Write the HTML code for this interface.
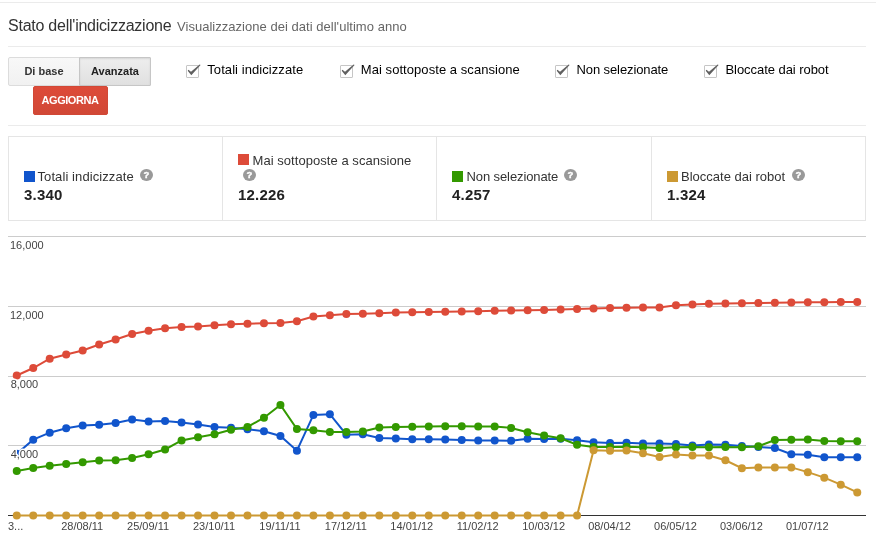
<!DOCTYPE html>
<html lang="it"><head><meta charset="utf-8"><title>Stato dell'indicizzazione</title>
<style>
html,body{margin:0;padding:0;background:#fff;}
body{width:876px;height:541px;position:relative;overflow:hidden;font-family:"Liberation Sans",Arial,sans-serif;font-size:13px;color:#222;}
.abs{position:absolute;}
.hr{position:absolute;height:1px;background:#ebebeb;}
h1{position:absolute;left:8px;top:16px;margin:0;font-size:16px;font-weight:normal;color:#333;line-height:20px;white-space:nowrap;letter-spacing:-0.24px;}
h1 span{position:absolute;left:169px;top:1px;font-size:13px;color:#666;letter-spacing:0.03px;}
.btn{position:absolute;box-sizing:border-box;height:29px;line-height:27px;text-align:center;font-size:11px;font-weight:bold;color:#333;border:1px solid #dcdcdc;background:#f5f5f5;background-image:linear-gradient(#f8f8f8,#f1f1f1);border-radius:2px;}
.btn.l{left:8px;top:57px;width:72px;border-radius:2px 0 0 2px;}
.btn.r{left:79px;top:57px;width:72px;border-radius:0 1px 1px 0;border-color:#c6c6c6;color:#222;background:#e8e8e8;background-image:linear-gradient(#eeeeee,#e0e0e0);box-shadow:inset 0 1px 2px rgba(0,0,0,.1);}
.btn.red{left:33px;top:86px;width:75px;color:#fff;border:1px solid #d14836;background:#d14836;background-image:linear-gradient(#dd4b39,#d14836);text-transform:uppercase;border-radius:2px;letter-spacing:-0.45px;text-indent:-1px;}
.cb{position:absolute;top:65px;width:11px;height:11px;border:1px solid #c6c6c6;background:#fff;border-radius:1px;}
.ck{position:absolute;overflow:visible;}
.cl{position:absolute;letter-spacing:0.07px;top:62px;line-height:16px;font-size:13px;color:#000;white-space:nowrap;}
.cards{position:absolute;left:8px;top:136px;width:856px;height:83px;border:1px solid #e5e5e5;}
.div{position:absolute;top:136px;width:1px;height:85px;background:#e5e5e5;}
.sq{position:absolute;width:11px;height:11px;}
.lab{position:absolute;letter-spacing:0.1px;font-size:13px;line-height:16px;color:#333;white-space:nowrap;}
.val{position:absolute;letter-spacing:0.2px;font-size:15px;line-height:18px;font-weight:bold;color:#222;white-space:nowrap;}
.help{position:absolute;width:13px;height:12.4px;border-radius:50%;background:#999;color:#fff;font-size:9.5px;font-weight:bold;line-height:12px;text-align:center;-webkit-text-stroke:0.4px #fff;}
.chart{position:absolute;left:0;top:0;}
</style></head><body>
<div class="hr" style="left:0;top:2px;width:876px"></div>
<h1>Stato dell'indicizzazione <span>Visualizzazione dei dati dell'ultimo anno</span></h1>
<div class="hr" style="left:8px;top:46px;width:858px"></div>
<div class="btn l">Di base</div><div class="btn r">Avanzata</div>
<div class="btn red">Aggiorna</div>
<div class="cb" style="left:186px"></div><svg class="ck" style="left:186px;top:60px" width="18" height="20" viewBox="0 0 18 20"><path d="M1.9 10.2 L2.4 9.8 L5 11.8 L13.6 4.4 L14.6 5.1 L5.3 15.2 L1.9 10.9 Z" fill="#606060"/></svg><div class="cl" style="left:207.3px;letter-spacing:0.07px">Totali indicizzate</div>
<div class="cb" style="left:339.5px"></div><svg class="ck" style="left:339.5px;top:60px" width="18" height="20" viewBox="0 0 18 20"><path d="M1.9 10.2 L2.4 9.8 L5 11.8 L13.6 4.4 L14.6 5.1 L5.3 15.2 L1.9 10.9 Z" fill="#606060"/></svg><div class="cl" style="left:360.8px;letter-spacing:0.06px">Mai sottoposte a scansione</div>
<div class="cb" style="left:555.3px"></div><svg class="ck" style="left:555.3px;top:60px" width="18" height="20" viewBox="0 0 18 20"><path d="M1.9 10.2 L2.4 9.8 L5 11.8 L13.6 4.4 L14.6 5.1 L5.3 15.2 L1.9 10.9 Z" fill="#606060"/></svg><div class="cl" style="left:576.5999999999999px;letter-spacing:-0.11px">Non selezionate</div>
<div class="cb" style="left:704.2px"></div><svg class="ck" style="left:704.2px;top:60px" width="18" height="20" viewBox="0 0 18 20"><path d="M1.9 10.2 L2.4 9.8 L5 11.8 L13.6 4.4 L14.6 5.1 L5.3 15.2 L1.9 10.9 Z" fill="#606060"/></svg><div class="cl" style="left:725.5px;letter-spacing:-0.055px">Bloccate dai robot</div>

<div class="hr" style="left:8px;top:125px;width:858px"></div>
<div class="cards"></div>
<div class="div" style="left:222px"></div><div class="div" style="left:436px"></div><div class="div" style="left:651px"></div>
<div class="sq" style="left:24px;top:171px;background:#1155cc"></div><div class="lab" style="left:37.5px;top:169px;letter-spacing:0.09px">Totali indicizzate</div><div class="help" style="left:140px;top:169px">?</div><div class="val" style="left:24px;top:186px">3.340</div>
<div class="sq" style="left:238px;top:154px;background:#dd4b39"></div><div class="lab" style="left:252.5px;top:153px;letter-spacing:0.05px">Mai sottoposte a scansione</div><div class="help" style="left:243px;top:169px">?</div><div class="val" style="left:238px;top:186px">12.226</div>
<div class="sq" style="left:452px;top:171px;background:#339900"></div><div class="lab" style="left:466.5px;top:169px;letter-spacing:-0.1px">Non selezionate</div><div class="help" style="left:564px;top:169px">?</div><div class="val" style="left:452px;top:186px">4.257</div>
<div class="sq" style="left:667px;top:171px;background:#cc9933"></div><div class="lab" style="left:681px;top:169px;letter-spacing:0">Bloccate dai robot</div><div class="help" style="left:792px;top:169px">?</div><div class="val" style="left:667px;top:186px">1.324</div>

<svg class="chart" width="876" height="541" viewBox="0 0 876 541">
<rect x="8" y="236" width="858" height="1" fill="#cccccc"/>
<rect x="8" y="306" width="858" height="1" fill="#cccccc"/>
<rect x="8" y="376" width="858" height="1" fill="#cccccc"/>
<rect x="8" y="445" width="858" height="1" fill="#cccccc"/>
<rect x="8" y="515" width="858" height="1" fill="#333333"/>
<polyline points="16.75,453.70 33.23,439.70 49.71,432.70 66.19,428.20 82.67,425.45 99.15,424.70 115.63,422.95 132.11,419.45 148.59,421.45 165.07,420.95 181.55,422.45 198.03,424.45 214.51,426.95 231.00,427.70 247.48,429.20 263.96,431.20 280.44,435.95 296.92,450.70 313.40,414.95 329.88,414.20 346.36,434.70 362.84,434.20 379.32,437.95 395.80,438.45 412.28,439.20 428.76,439.20 445.24,439.45 461.72,439.95 478.20,440.45 494.68,440.45 511.16,440.70 527.64,438.70 544.12,438.95 560.60,438.70 577.08,440.20 593.56,442.25 610.04,443.00 626.52,442.80 643.00,443.60 659.49,443.60 675.97,444.00 692.45,445.60 708.93,444.45 725.41,444.70 741.89,445.95 758.37,446.95 774.85,447.95 791.33,454.20 807.81,454.70 824.29,457.20 840.77,457.20 857.25,457.20" fill="none" stroke="#1155cc" stroke-width="2"/><g fill="#1155cc"><circle cx="16.75" cy="453.70" r="4"/><circle cx="33.23" cy="439.70" r="4"/><circle cx="49.71" cy="432.70" r="4"/><circle cx="66.19" cy="428.20" r="4"/><circle cx="82.67" cy="425.45" r="4"/><circle cx="99.15" cy="424.70" r="4"/><circle cx="115.63" cy="422.95" r="4"/><circle cx="132.11" cy="419.45" r="4"/><circle cx="148.59" cy="421.45" r="4"/><circle cx="165.07" cy="420.95" r="4"/><circle cx="181.55" cy="422.45" r="4"/><circle cx="198.03" cy="424.45" r="4"/><circle cx="214.51" cy="426.95" r="4"/><circle cx="231.00" cy="427.70" r="4"/><circle cx="247.48" cy="429.20" r="4"/><circle cx="263.96" cy="431.20" r="4"/><circle cx="280.44" cy="435.95" r="4"/><circle cx="296.92" cy="450.70" r="4"/><circle cx="313.40" cy="414.95" r="4"/><circle cx="329.88" cy="414.20" r="4"/><circle cx="346.36" cy="434.70" r="4"/><circle cx="362.84" cy="434.20" r="4"/><circle cx="379.32" cy="437.95" r="4"/><circle cx="395.80" cy="438.45" r="4"/><circle cx="412.28" cy="439.20" r="4"/><circle cx="428.76" cy="439.20" r="4"/><circle cx="445.24" cy="439.45" r="4"/><circle cx="461.72" cy="439.95" r="4"/><circle cx="478.20" cy="440.45" r="4"/><circle cx="494.68" cy="440.45" r="4"/><circle cx="511.16" cy="440.70" r="4"/><circle cx="527.64" cy="438.70" r="4"/><circle cx="544.12" cy="438.95" r="4"/><circle cx="560.60" cy="438.70" r="4"/><circle cx="577.08" cy="440.20" r="4"/><circle cx="593.56" cy="442.25" r="4"/><circle cx="610.04" cy="443.00" r="4"/><circle cx="626.52" cy="442.80" r="4"/><circle cx="643.00" cy="443.60" r="4"/><circle cx="659.49" cy="443.60" r="4"/><circle cx="675.97" cy="444.00" r="4"/><circle cx="692.45" cy="445.60" r="4"/><circle cx="708.93" cy="444.45" r="4"/><circle cx="725.41" cy="444.70" r="4"/><circle cx="741.89" cy="445.95" r="4"/><circle cx="758.37" cy="446.95" r="4"/><circle cx="774.85" cy="447.95" r="4"/><circle cx="791.33" cy="454.20" r="4"/><circle cx="807.81" cy="454.70" r="4"/><circle cx="824.29" cy="457.20" r="4"/><circle cx="840.77" cy="457.20" r="4"/><circle cx="857.25" cy="457.20" r="4"/></g>
<polyline points="16.75,375.50 33.23,368.00 49.71,358.75 66.19,354.50 82.67,350.50 99.15,344.50 115.63,339.50 132.11,334.00 148.59,330.75 165.07,328.25 181.55,327.00 198.03,326.50 214.51,325.25 231.00,324.25 247.48,323.75 263.96,323.25 280.44,323.00 296.92,321.25 313.40,316.50 329.88,315.25 346.36,314.00 362.84,313.75 379.32,313.25 395.80,312.50 412.28,312.25 428.76,312.00 445.24,311.75 461.72,311.50 478.20,311.25 494.68,310.75 511.16,310.50 527.64,310.25 544.12,310.00 560.60,309.50 577.08,309.00 593.56,308.50 610.04,308.00 626.52,307.75 643.00,307.60 659.49,307.50 675.97,305.25 692.45,304.50 708.93,303.75 725.41,303.50 741.89,303.25 758.37,303.00 774.85,302.75 791.33,302.50 807.81,302.25 824.29,302.25 840.77,302.00 857.25,302.00" fill="none" stroke="#dd4b39" stroke-width="2"/><g fill="#dd4b39"><circle cx="16.75" cy="375.50" r="4"/><circle cx="33.23" cy="368.00" r="4"/><circle cx="49.71" cy="358.75" r="4"/><circle cx="66.19" cy="354.50" r="4"/><circle cx="82.67" cy="350.50" r="4"/><circle cx="99.15" cy="344.50" r="4"/><circle cx="115.63" cy="339.50" r="4"/><circle cx="132.11" cy="334.00" r="4"/><circle cx="148.59" cy="330.75" r="4"/><circle cx="165.07" cy="328.25" r="4"/><circle cx="181.55" cy="327.00" r="4"/><circle cx="198.03" cy="326.50" r="4"/><circle cx="214.51" cy="325.25" r="4"/><circle cx="231.00" cy="324.25" r="4"/><circle cx="247.48" cy="323.75" r="4"/><circle cx="263.96" cy="323.25" r="4"/><circle cx="280.44" cy="323.00" r="4"/><circle cx="296.92" cy="321.25" r="4"/><circle cx="313.40" cy="316.50" r="4"/><circle cx="329.88" cy="315.25" r="4"/><circle cx="346.36" cy="314.00" r="4"/><circle cx="362.84" cy="313.75" r="4"/><circle cx="379.32" cy="313.25" r="4"/><circle cx="395.80" cy="312.50" r="4"/><circle cx="412.28" cy="312.25" r="4"/><circle cx="428.76" cy="312.00" r="4"/><circle cx="445.24" cy="311.75" r="4"/><circle cx="461.72" cy="311.50" r="4"/><circle cx="478.20" cy="311.25" r="4"/><circle cx="494.68" cy="310.75" r="4"/><circle cx="511.16" cy="310.50" r="4"/><circle cx="527.64" cy="310.25" r="4"/><circle cx="544.12" cy="310.00" r="4"/><circle cx="560.60" cy="309.50" r="4"/><circle cx="577.08" cy="309.00" r="4"/><circle cx="593.56" cy="308.50" r="4"/><circle cx="610.04" cy="308.00" r="4"/><circle cx="626.52" cy="307.75" r="4"/><circle cx="643.00" cy="307.60" r="4"/><circle cx="659.49" cy="307.50" r="4"/><circle cx="675.97" cy="305.25" r="4"/><circle cx="692.45" cy="304.50" r="4"/><circle cx="708.93" cy="303.75" r="4"/><circle cx="725.41" cy="303.50" r="4"/><circle cx="741.89" cy="303.25" r="4"/><circle cx="758.37" cy="303.00" r="4"/><circle cx="774.85" cy="302.75" r="4"/><circle cx="791.33" cy="302.50" r="4"/><circle cx="807.81" cy="302.25" r="4"/><circle cx="824.29" cy="302.25" r="4"/><circle cx="840.77" cy="302.00" r="4"/><circle cx="857.25" cy="302.00" r="4"/></g>
<polyline points="16.75,470.95 33.23,467.95 49.71,465.70 66.19,463.95 82.67,462.20 99.15,460.45 115.63,460.20 132.11,457.95 148.59,454.20 165.07,449.45 181.55,440.45 198.03,437.20 214.51,434.20 231.00,429.70 247.48,426.95 263.96,417.70 280.44,404.95 296.92,428.95 313.40,430.20 329.88,431.95 346.36,431.95 362.84,431.45 379.32,427.45 395.80,426.95 412.28,426.70 428.76,426.45 445.24,426.20 461.72,426.20 478.20,426.45 494.68,426.45 511.16,427.95 527.64,432.20 544.12,435.45 560.60,438.20 577.08,444.70 593.56,446.90 610.04,446.90 626.52,446.80 643.00,447.30 659.49,447.90 675.97,447.15 692.45,446.95 708.93,447.20 725.41,446.95 741.89,447.20 758.37,446.20 774.85,439.95 791.33,439.70 807.81,439.45 824.29,440.95 840.77,441.20 857.25,441.20" fill="none" stroke="#339900" stroke-width="2"/><g fill="#339900"><circle cx="16.75" cy="470.95" r="4"/><circle cx="33.23" cy="467.95" r="4"/><circle cx="49.71" cy="465.70" r="4"/><circle cx="66.19" cy="463.95" r="4"/><circle cx="82.67" cy="462.20" r="4"/><circle cx="99.15" cy="460.45" r="4"/><circle cx="115.63" cy="460.20" r="4"/><circle cx="132.11" cy="457.95" r="4"/><circle cx="148.59" cy="454.20" r="4"/><circle cx="165.07" cy="449.45" r="4"/><circle cx="181.55" cy="440.45" r="4"/><circle cx="198.03" cy="437.20" r="4"/><circle cx="214.51" cy="434.20" r="4"/><circle cx="231.00" cy="429.70" r="4"/><circle cx="247.48" cy="426.95" r="4"/><circle cx="263.96" cy="417.70" r="4"/><circle cx="280.44" cy="404.95" r="4"/><circle cx="296.92" cy="428.95" r="4"/><circle cx="313.40" cy="430.20" r="4"/><circle cx="329.88" cy="431.95" r="4"/><circle cx="346.36" cy="431.95" r="4"/><circle cx="362.84" cy="431.45" r="4"/><circle cx="379.32" cy="427.45" r="4"/><circle cx="395.80" cy="426.95" r="4"/><circle cx="412.28" cy="426.70" r="4"/><circle cx="428.76" cy="426.45" r="4"/><circle cx="445.24" cy="426.20" r="4"/><circle cx="461.72" cy="426.20" r="4"/><circle cx="478.20" cy="426.45" r="4"/><circle cx="494.68" cy="426.45" r="4"/><circle cx="511.16" cy="427.95" r="4"/><circle cx="527.64" cy="432.20" r="4"/><circle cx="544.12" cy="435.45" r="4"/><circle cx="560.60" cy="438.20" r="4"/><circle cx="577.08" cy="444.70" r="4"/><circle cx="593.56" cy="446.90" r="4"/><circle cx="610.04" cy="446.90" r="4"/><circle cx="626.52" cy="446.80" r="4"/><circle cx="643.00" cy="447.30" r="4"/><circle cx="659.49" cy="447.90" r="4"/><circle cx="675.97" cy="447.15" r="4"/><circle cx="692.45" cy="446.95" r="4"/><circle cx="708.93" cy="447.20" r="4"/><circle cx="725.41" cy="446.95" r="4"/><circle cx="741.89" cy="447.20" r="4"/><circle cx="758.37" cy="446.20" r="4"/><circle cx="774.85" cy="439.95" r="4"/><circle cx="791.33" cy="439.70" r="4"/><circle cx="807.81" cy="439.45" r="4"/><circle cx="824.29" cy="440.95" r="4"/><circle cx="840.77" cy="441.20" r="4"/><circle cx="857.25" cy="441.20" r="4"/></g>
<polyline points="16.75,515.50 33.23,515.50 49.71,515.50 66.19,515.50 82.67,515.50 99.15,515.50 115.63,515.50 132.11,515.50 148.59,515.50 165.07,515.50 181.55,515.50 198.03,515.50 214.51,515.50 231.00,515.50 247.48,515.50 263.96,515.50 280.44,515.50 296.92,515.50 313.40,515.50 329.88,515.50 346.36,515.50 362.84,515.50 379.32,515.50 395.80,515.50 412.28,515.50 428.76,515.50 445.24,515.50 461.72,515.50 478.20,515.50 494.68,515.50 511.16,515.50 527.64,515.50 544.12,515.50 560.60,515.50 577.08,515.50 593.56,450.15 610.04,450.65 626.52,450.40 643.00,453.30 659.49,456.90 675.97,454.40 692.45,455.50 708.93,455.50 725.41,460.25 741.89,468.25 758.37,467.50 774.85,467.50 791.33,467.40 807.81,472.15 824.29,477.65 840.77,484.65 857.25,492.40" fill="none" stroke="#cc9933" stroke-width="2"/><g fill="#cc9933"><circle cx="16.75" cy="515.50" r="4"/><circle cx="33.23" cy="515.50" r="4"/><circle cx="49.71" cy="515.50" r="4"/><circle cx="66.19" cy="515.50" r="4"/><circle cx="82.67" cy="515.50" r="4"/><circle cx="99.15" cy="515.50" r="4"/><circle cx="115.63" cy="515.50" r="4"/><circle cx="132.11" cy="515.50" r="4"/><circle cx="148.59" cy="515.50" r="4"/><circle cx="165.07" cy="515.50" r="4"/><circle cx="181.55" cy="515.50" r="4"/><circle cx="198.03" cy="515.50" r="4"/><circle cx="214.51" cy="515.50" r="4"/><circle cx="231.00" cy="515.50" r="4"/><circle cx="247.48" cy="515.50" r="4"/><circle cx="263.96" cy="515.50" r="4"/><circle cx="280.44" cy="515.50" r="4"/><circle cx="296.92" cy="515.50" r="4"/><circle cx="313.40" cy="515.50" r="4"/><circle cx="329.88" cy="515.50" r="4"/><circle cx="346.36" cy="515.50" r="4"/><circle cx="362.84" cy="515.50" r="4"/><circle cx="379.32" cy="515.50" r="4"/><circle cx="395.80" cy="515.50" r="4"/><circle cx="412.28" cy="515.50" r="4"/><circle cx="428.76" cy="515.50" r="4"/><circle cx="445.24" cy="515.50" r="4"/><circle cx="461.72" cy="515.50" r="4"/><circle cx="478.20" cy="515.50" r="4"/><circle cx="494.68" cy="515.50" r="4"/><circle cx="511.16" cy="515.50" r="4"/><circle cx="527.64" cy="515.50" r="4"/><circle cx="544.12" cy="515.50" r="4"/><circle cx="560.60" cy="515.50" r="4"/><circle cx="577.08" cy="515.50" r="4"/><circle cx="593.56" cy="450.15" r="4"/><circle cx="610.04" cy="450.65" r="4"/><circle cx="626.52" cy="450.40" r="4"/><circle cx="643.00" cy="453.30" r="4"/><circle cx="659.49" cy="456.90" r="4"/><circle cx="675.97" cy="454.40" r="4"/><circle cx="692.45" cy="455.50" r="4"/><circle cx="708.93" cy="455.50" r="4"/><circle cx="725.41" cy="460.25" r="4"/><circle cx="741.89" cy="468.25" r="4"/><circle cx="758.37" cy="467.50" r="4"/><circle cx="774.85" cy="467.50" r="4"/><circle cx="791.33" cy="467.40" r="4"/><circle cx="807.81" cy="472.15" r="4"/><circle cx="824.29" cy="477.65" r="4"/><circle cx="840.77" cy="484.65" r="4"/><circle cx="857.25" cy="492.40" r="4"/></g>
<g font-family="'Liberation Sans', Arial, sans-serif" font-size="11" fill="#444444">
<text x="8" y="530" stroke="#ffffff" stroke-width="3" stroke-linejoin="round">3...</text><text x="8" y="530">3...</text>
<text x="82.17" y="530" text-anchor="middle" stroke="#ffffff" stroke-width="3" stroke-linejoin="round">28/08/11</text><text x="82.17" y="530" text-anchor="middle">28/08/11</text>
<text x="148.09" y="530" text-anchor="middle" stroke="#ffffff" stroke-width="3" stroke-linejoin="round">25/09/11</text><text x="148.09" y="530" text-anchor="middle">25/09/11</text>
<text x="214.01" y="530" text-anchor="middle" stroke="#ffffff" stroke-width="3" stroke-linejoin="round">23/10/11</text><text x="214.01" y="530" text-anchor="middle">23/10/11</text>
<text x="279.94" y="530" text-anchor="middle" stroke="#ffffff" stroke-width="3" stroke-linejoin="round">19/11/11</text><text x="279.94" y="530" text-anchor="middle">19/11/11</text>
<text x="345.86" y="530" text-anchor="middle" stroke="#ffffff" stroke-width="3" stroke-linejoin="round">17/12/11</text><text x="345.86" y="530" text-anchor="middle">17/12/11</text>
<text x="411.78" y="530" text-anchor="middle" stroke="#ffffff" stroke-width="3" stroke-linejoin="round">14/01/12</text><text x="411.78" y="530" text-anchor="middle">14/01/12</text>
<text x="477.70" y="530" text-anchor="middle" stroke="#ffffff" stroke-width="3" stroke-linejoin="round">11/02/12</text><text x="477.70" y="530" text-anchor="middle">11/02/12</text>
<text x="543.62" y="530" text-anchor="middle" stroke="#ffffff" stroke-width="3" stroke-linejoin="round">10/03/12</text><text x="543.62" y="530" text-anchor="middle">10/03/12</text>
<text x="609.54" y="530" text-anchor="middle" stroke="#ffffff" stroke-width="3" stroke-linejoin="round">08/04/12</text><text x="609.54" y="530" text-anchor="middle">08/04/12</text>
<text x="675.47" y="530" text-anchor="middle" stroke="#ffffff" stroke-width="3" stroke-linejoin="round">06/05/12</text><text x="675.47" y="530" text-anchor="middle">06/05/12</text>
<text x="741.39" y="530" text-anchor="middle" stroke="#ffffff" stroke-width="3" stroke-linejoin="round">03/06/12</text><text x="741.39" y="530" text-anchor="middle">03/06/12</text>
<text x="807.31" y="530" text-anchor="middle" stroke="#ffffff" stroke-width="3" stroke-linejoin="round">01/07/12</text><text x="807.31" y="530" text-anchor="middle">01/07/12</text>
<text x="10" y="249" stroke="#ffffff" stroke-width="3" stroke-linejoin="round">16,000</text><text x="10" y="249">16,000</text>
<text x="10" y="319" stroke="#ffffff" stroke-width="3" stroke-linejoin="round">12,000</text><text x="10" y="319">12,000</text>
<text x="10.7" y="388" stroke="#ffffff" stroke-width="3" stroke-linejoin="round">8,000</text><text x="10.7" y="388">8,000</text>
<text x="10.7" y="458" stroke="#ffffff" stroke-width="3" stroke-linejoin="round">4,000</text><text x="10.7" y="458">4,000</text>
</g></svg>
</body></html>
